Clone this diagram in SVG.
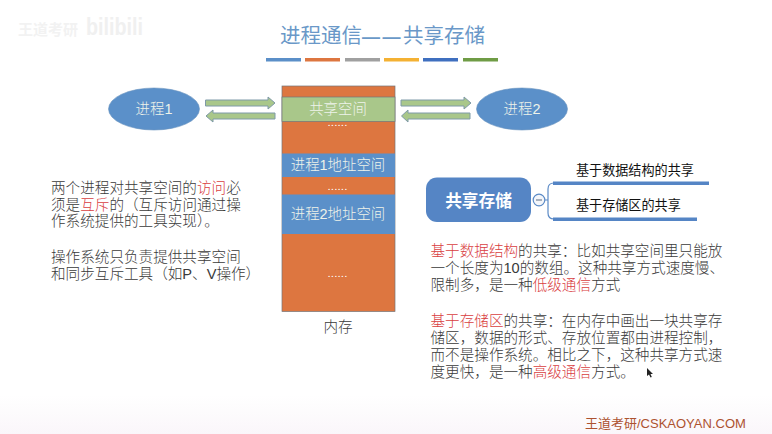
<svg xmlns="http://www.w3.org/2000/svg" width="772" height="434" viewBox="0 0 772 434">
<style>
text{font-family:"Liberation Sans","Noto Sans CJK SC",sans-serif}
.t{font-size:14.6px;fill:#3a3a3a;font-weight:300}
.r{fill:#d9403f}
.w{font-size:14.4px;fill:#eef3ea;text-anchor:middle;font-weight:300}
.d{font-size:8px;letter-spacing:1.100px;fill:#fff;text-anchor:middle;font-weight:bold}
.bar{stroke:none}
.a{fill:#a9c78a;stroke:#7f9aa8;stroke-width:1}
.el{fill:#5b90c9;stroke:#6a93c0;stroke-width:.6}
.m{stroke:#72757a;stroke-width:.7}
.h{font-size:13.100px;fill:#111;font-weight:400}
</style>
<defs>
<linearGradient id="bg" x1="0" y1="0" x2="0" y2="1"><stop offset="0" stop-color="#fff"/><stop offset="1" stop-color="#faf6fa"/></linearGradient>
</defs>
<rect width="772" height="434" fill="#fff"/>
<rect y="395" width="772" height="39" fill="url(#bg)"/>
<g id="watermark" fill="#f0f0f0">
<text x="18" y="35" font-size="15" font-weight="700" fill="#f2f2f2">王道考研</text>
<text x="86" y="35" font-size="24" font-weight="700" textLength="57" lengthAdjust="spacingAndGlyphs">bilibili</text>
</g>
<g id="title">
<text x="382.500" y="43" font-size="20.500" fill="#6a98c8" text-anchor="middle" font-weight="400">进程通信<tspan font-size="18" font-weight="700" letter-spacing="2.500">——</tspan>共享存储</text>
<rect class="bar" x="266" y="58" width="35" height="3.500" fill="#5b8fc8"/>
<rect class="bar" x="305" y="58" width="35" height="3.500" fill="#dd7640"/>
<rect class="bar" x="345" y="58" width="35" height="3.500" fill="#a0a0a0"/>
<rect class="bar" x="384" y="58" width="35" height="3.500" fill="#f4b133"/>
<rect class="bar" x="423" y="58" width="35" height="3.500" fill="#3f6fbf"/>
<rect class="bar" x="463" y="58" width="35" height="3.500" fill="#6f9c45"/>
</g>
<g id="connectors">
<path class="a" d="M205.500 100H268V97L275 103L268 109V106H205.500Z"/>
<path class="a" d="M206 116L213 110V113H275V119H213V122Z"/>
<path class="a" d="M401 100H464V97L471 103L464 109V106H401Z"/>
<path class="a" d="M401.500 116L408 110V113H470V119H408V122Z"/>
<path fill="none" stroke="#5b8ac6" stroke-width="1.200" d="M545 200H548V189Q548 183 554 183M548 200V213Q548 219 554 219"/>
</g>
<g id="process1">
<ellipse class="el" cx="154" cy="109" rx="45.500" ry="21"/>
<text class="w" x="154" y="114">进程1</text>
</g>
<g id="process2">
<ellipse class="el" cx="522" cy="109" rx="45.500" ry="21"/>
<text class="w" x="522" y="114">进程2</text>
</g>
<g id="memory">
<rect class="m" x="282" y="86" width="113" height="225.500" fill="#dd7640"/>
<rect class="m" x="282" y="97" width="113" height="24.500" fill="#a9c78a"/>
<rect x="282" y="153.500" width="113" height="23.500" fill="#5b90c9"/>
<rect x="282" y="194.500" width="113" height="39.500" fill="#5b90c9"/>
<text class="w" x="338" y="113.500">共享空间</text>
<text class="d" x="338" y="125.500">......</text>
<text class="w" x="338" y="170">进程1地址空间</text>
<text class="d" x="338" y="190">......</text>
<text class="w" x="338" y="219">进程2地址空间</text>
<text class="d" x="338" y="277">......</text>
<text class="t" x="338" y="332" text-anchor="middle">内存</text>
</g>
<g id="shared-memory">
<rect x="426" y="177.500" width="105" height="44.500" rx="11" fill="#5585c5"/>
<text x="478.500" y="207" font-size="16.700" font-weight="700" fill="#fff" text-anchor="middle">共享存储</text>
<circle cx="539" cy="200" r="5.800" fill="#f4f6fa" stroke="#5b8ac6" stroke-width="1.200"/>
<path d="M536 200H542" stroke="#5b6a80" stroke-width="1"/>
</g>
<g id="branch-1">
<rect x="553" y="181.500" width="156" height="3.500" fill="#5585c5"/>
<text class="h" x="576" y="175">基于数据结构的共享</text>
</g>
<g id="branch-2">
<rect x="553" y="217.500" width="144" height="3.500" fill="#5585c5"/>
<text class="h" x="576" y="210">基于存储区的共享</text>
</g>
<g id="left-text">
<text class="t" x="51" y="193">两个进程对共享空间的<tspan class="r">访问</tspan>必</text>
<text class="t" x="51" y="210">须是<tspan class="r">互斥</tspan>的（互斥访问通过操</text>
<text class="t" x="51" y="226">作系统提供的工具实现）。</text>
<text class="t" x="51" y="262">操作系统只负责提供共享空间</text>
<text class="t" x="51" y="279">和同步互斥工具（如P、V操作）</text>
</g>
<g id="right-text">
<text class="t" x="430.500" y="256"><tspan class="r">基于数据结构</tspan>的共享：比如共享空间里只能放</text>
<text class="t" x="430.500" y="273">一个长度为10的数组。这种共享方式速度慢、</text>
<text class="t" x="430.500" y="290">限制多，是一种<tspan class="r">低级通信</tspan>方式</text>
<text class="t" x="430.500" y="326"><tspan class="r">基于存储区</tspan>的共享：在内存中画出一块共享存</text>
<text class="t" x="430.500" y="343">储区，数据的形式、存放位置都由进程控制，</text>
<text class="t" x="430.500" y="360">而不是操作系统。相比之下，这种共享方式速</text>
<text class="t" x="430.500" y="377">度更快，是一种<tspan class="r">高级通信</tspan>方式。</text>
</g>
<path id="cursor" d="M647 368V376L649 374.500L650.500 377.500L651.800 377L650.500 374H653Z" fill="#222"/>
<g id="footer">
<text x="585" y="428" font-size="13" fill="#ad5230">王道考研/CSKAOYAN.COM</text>
</g>
</svg>
